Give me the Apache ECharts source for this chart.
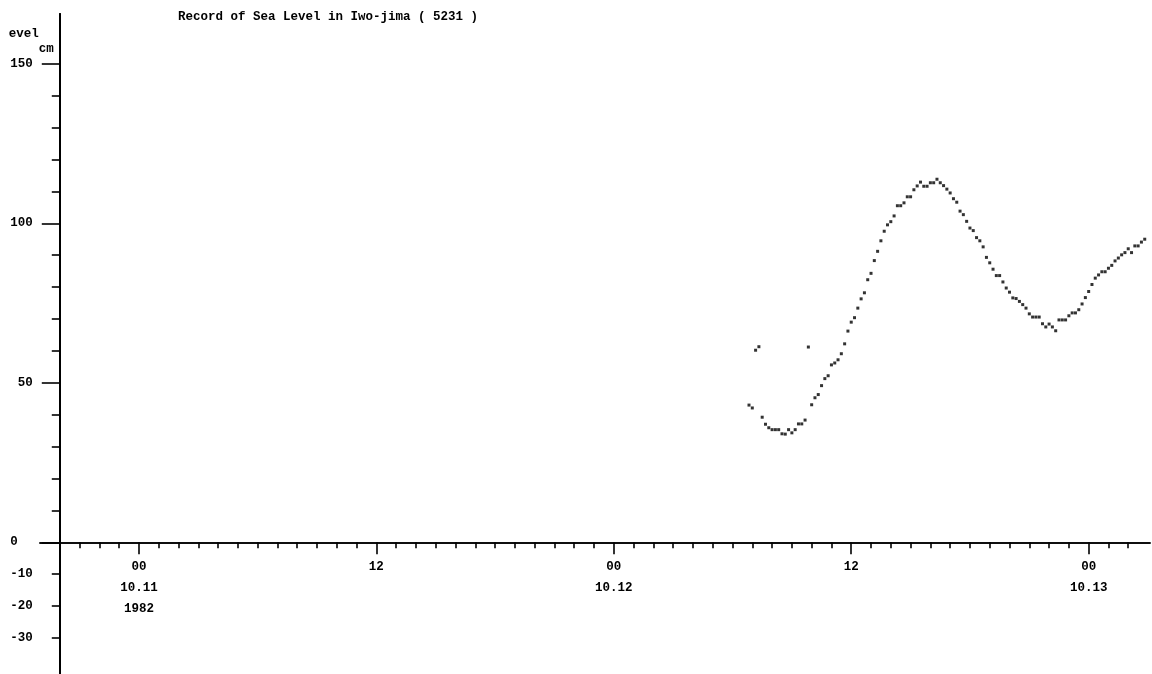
<!DOCTYPE html>
<html><head><meta charset="utf-8">
<script src="https://cdn.jsdelivr.net/npm/echarts@6/dist/echarts.min.js"></script>
<style>html,body{margin:0;padding:0;background:#fff}#c{width:1152px;height:674px}</style>
</head><body><div id="c"></div>
<script>
// ---- data ----
const chartTitle = 'Record of Sea Level in Iwo-jima ( 5231 )';
const yAxisName = 'evel  \ncm';
const seriesStart = '1982-10-12T06:50:00';   // first observation
const stepMinutes = 10;                      // sampling interval
const seaLevel = [
  43.0, 42.1, 60.2, 61.3, 39.2, 37.0, 35.9, 35.3, 35.3, 35.3,
  34.0, 33.9, 35.3, 34.3, 35.3, 37.1, 37.1, 38.3, 61.2, 43.1,
  45.3, 46.3, 49.1, 51.3, 52.2, 55.6, 56.2, 57.2, 59.1, 62.2,
  66.2, 69.0, 70.4, 73.4, 76.3, 78.2, 82.3, 84.3, 88.3, 91.2,
  94.5, 97.5, 99.5, 100.5, 102.3, 105.5, 105.5, 106.4, 108.3, 108.3,
  110.5, 111.7, 112.9, 111.6, 111.6, 112.7, 112.7, 113.8, 112.7, 111.8,
  110.7, 109.5, 107.7, 106.6, 103.8, 102.7, 100.6, 98.5, 97.7, 95.5,
  94.5, 92.6, 89.3, 87.6, 85.6, 83.6, 83.6, 81.6, 79.7, 78.4,
  76.6, 76.4, 75.5, 74.5, 73.4, 71.6, 70.6, 70.6, 70.6, 68.5,
  67.5, 68.4, 67.5, 66.3, 69.7, 69.7, 69.7, 71.0, 71.9, 71.9,
  72.9, 74.7, 76.7, 78.6, 80.8, 82.8, 83.8, 84.8, 84.8, 85.9,
  86.8, 88.2, 89.1, 90.1, 90.8, 92.0, 90.8, 92.9, 92.9, 94.1,
  95.0
];
const axisOrigin = '1982-10-11T00:00:00';   // hour 0 of the time axis
const xLabelTimes = ['1982-10-11T00:00:00', '1982-10-11T12:00:00', '1982-10-12T00:00:00', '1982-10-12T12:00:00', '1982-10-13T00:00:00'];
const xLabelTexts = ['00\n10.11\n1982', '12', '00\n10.12', '12', '00\n10.13'];
const yLabelValues = [150, 100, 50, 0, -10, -20, -30];
const yMajorTicks = [150, 100, 50, 0];
const yMinorTicks = [-30, -20, -10, 10, 20, 30, 40, 60, 70, 80, 90, 110, 120, 130, 140];
const levelAxisAtHour = -4;                  // the level axis crosses the time axis here

// ---- helpers ----
const hoursFromOrigin = t => (t - Date.parse(axisOrigin)) / 3600000;
const startMs = Date.parse(seriesStart);
const points = seaLevel.map((v, i) => [hoursFromOrigin(startMs + i * stepMinutes * 60000), v]);
const xLabelHours = xLabelTimes.map(t => hoursFromOrigin(Date.parse(t)));
const xMin = -5, xMax = 51.1, yMin = -41.3, yMax = 165.6;
const xMinorTicks = [];
for (let h = -3; h <= 50; h++) if (!xLabelHours.includes(h)) xMinorTicks.push(h);

const W = 1152, H = 674;
const G = {left: 40, right: 2, top: 14, bottom: 0};
const gw = W - G.left - G.right, gh = H - G.top - G.bottom;
// offsets so the axes cross at (levelAxisAtHour, 0 cm)
const yOff = -((levelAxisAtHour - xMin) / (xMax - xMin)) * gw;
const xOff = -((0 - yMin) / (yMax - yMin)) * gh;

const font = {fontFamily: 'Liberation Mono', fontWeight: 'bold', fontSize: 12.5, color: '#000'};
const tickStyle = {color: '#000', width: 1.6};

const chart = echarts.init(document.getElementById('c'), null, {renderer: 'canvas'});
chart.setOption({
  animation: false,
  backgroundColor: '#fff',
  title: {
    text: chartTitle, left: 173, top: 5,
    textStyle: Object.assign({}, font)
  },
  grid: Object.assign({containLabel: false, outerBoundsMode: 'none'}, G),
  xAxis: [
    {
      type: 'value', min: xMin, max: xMax, position: 'bottom', offset: xOff,
      axisLine: {show: true, onZero: false, lineStyle: {color: '#000', width: 1.6}},
      axisTick: {show: true, customValues: xMinorTicks, length: 6, lineStyle: tickStyle},
      axisLabel: {show: false},
      splitLine: {show: false}
    },
    {
      type: 'value', min: xMin, max: xMax, position: 'bottom', offset: xOff,
      axisLine: {show: true, onZero: false, lineStyle: {color: '#000', width: 1.6}},
      axisTick: {show: true, customValues: xLabelHours, length: 12, lineStyle: tickStyle},
      axisLabel: Object.assign({
        show: true, customValues: xLabelHours, margin: 14, lineHeight: 21, align: 'center',
        formatter: v => { const i = xLabelHours.findIndex(h => Math.abs(h - v) < 1e-6); return i >= 0 ? xLabelTexts[i] : ''; }
      }, font),
      splitLine: {show: false}
    }
  ],
  yAxis: [
    {
      type: 'value', min: yMin, max: yMax, position: 'left', offset: yOff,
      name: yAxisName, nameLocation: 'end', nameGap: -42,
      nameTextStyle: Object.assign({align: 'right', lineHeight: 15, padding: [0, 6, 0, 0]}, font),
      axisLine: {show: true, onZero: false, lineStyle: {color: '#000', width: 2}},
      axisTick: {show: true, customValues: yMinorTicks, length: 8, lineStyle: tickStyle},
      axisLabel: {show: false},
      splitLine: {show: false}
    },
    {
      type: 'value', min: yMin, max: yMax, position: 'left', offset: yOff,
      axisLine: {show: true, onZero: false, lineStyle: {color: '#000', width: 2}},
      axisTick: {show: true, customValues: yMajorTicks, length: 18, lineStyle: tickStyle},
      axisLabel: Object.assign({
        show: true, customValues: yLabelValues, margin: 27, align: 'right',
        formatter: v => (v === 0 ? '0  ' : String(v))
      }, font),
      splitLine: {show: false}
    }
  ],
  series: [{
    type: 'scatter',
    xAxisIndex: 0, yAxisIndex: 0,
    data: points,
    symbol: 'rect', symbolSize: 3,
    itemStyle: {color: '#000'},
    silent: true
  }]
});
</script>
</body></html>
